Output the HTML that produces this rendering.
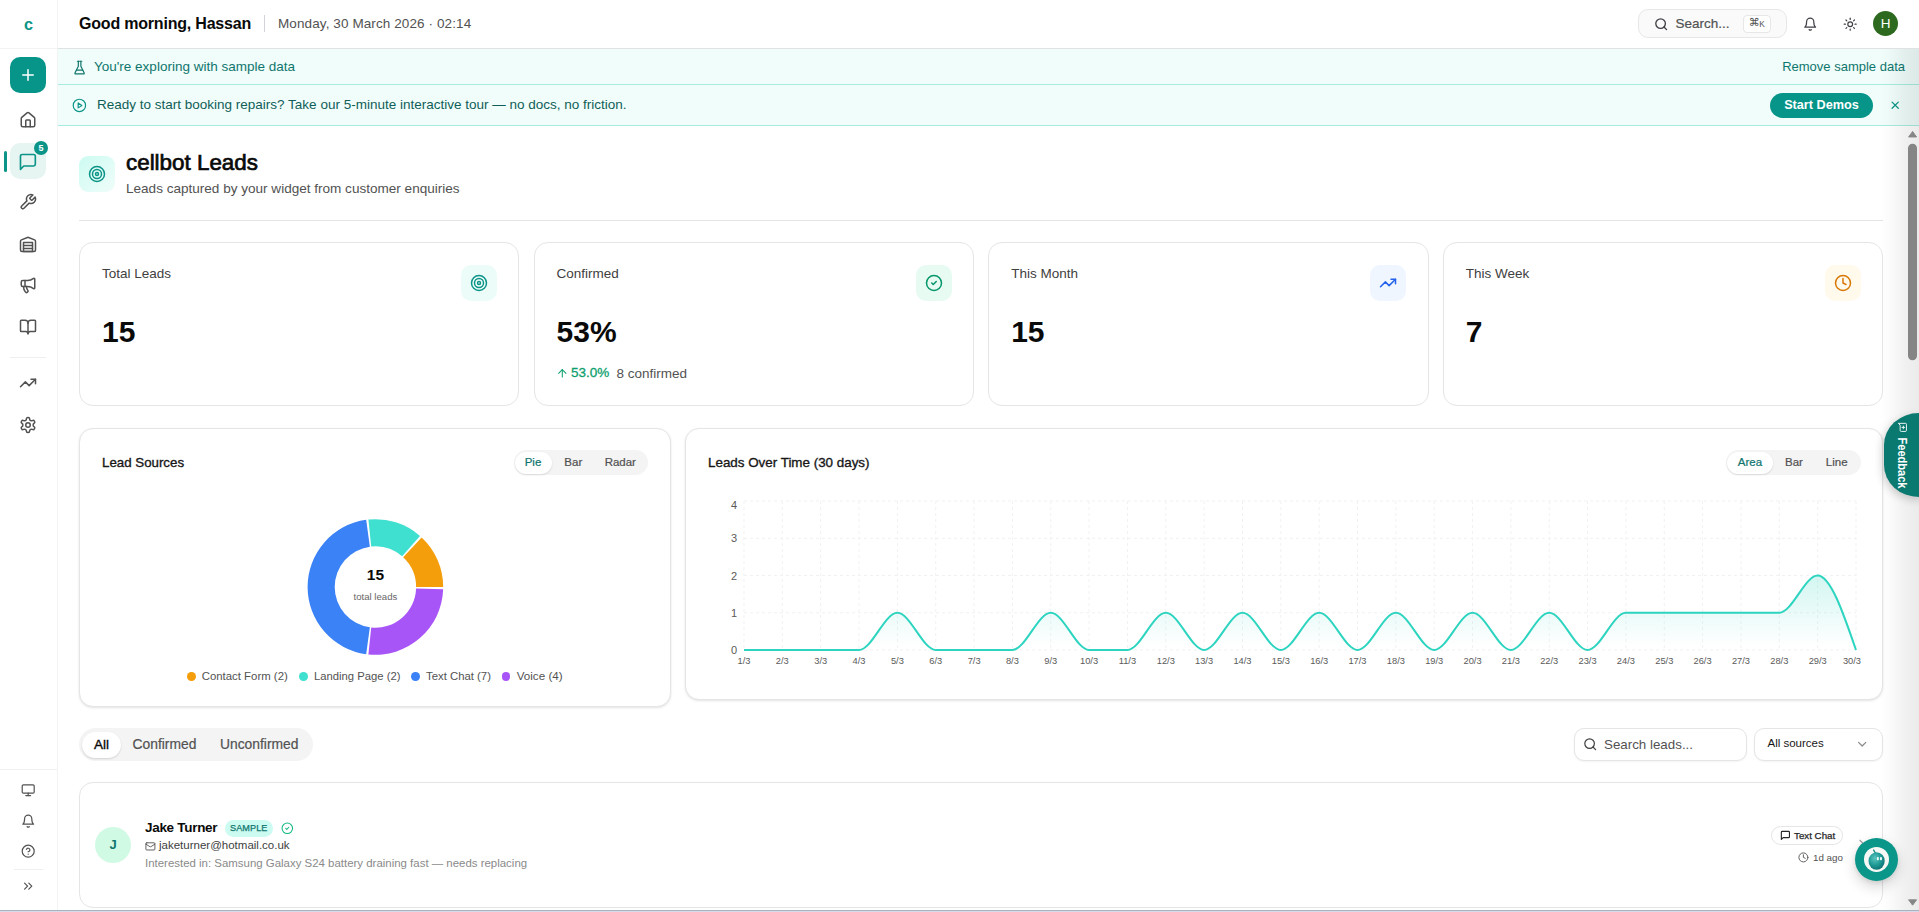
<!DOCTYPE html>
<html lang="en">
<head>
<meta charset="utf-8">
<title>cellbot Leads</title>
<style>
*{box-sizing:border-box;margin:0;padding:0}
html,body{width:1919px;height:912px;overflow:hidden;background:#fff}
body{font-family:"Liberation Sans",Arial,sans-serif;color:#0a0a0a;position:relative;-webkit-font-smoothing:antialiased}
svg.i{fill:none;stroke:currentColor;stroke-width:2;stroke-linecap:round;stroke-linejoin:round;display:block}
.abs{position:absolute}
/* sidebar */
#side{position:absolute;left:0;top:0;width:58px;height:912px;border-right:1px solid #f3f3f4;background:#fff}
#side .ic{position:absolute;left:18px;width:20px;height:20px;color:#444}
#side .ic svg{width:20px;height:20px}
/* header */
#hdr{position:absolute;left:58px;top:0;width:1861px;height:49px;border-bottom:1px solid #dfe1e3;background:#fff}
/* banners */
#b1{position:absolute;left:58px;top:49px;width:1861px;height:36px;background:#f0fdfa;border-bottom:1px solid #a7ece0}
#b2{position:absolute;left:58px;top:85px;width:1861px;height:41px;background:#f0fdfa;border-bottom:1px solid #a7ece0}
.card{position:absolute;background:#fff;border:1px solid #e5e5e5;border-radius:14px}
.sh{box-shadow:0 1px 3px rgba(0,0,0,.08),0 1px 2px rgba(0,0,0,.04)}
.md{font-weight:400;-webkit-text-stroke:.35px currentColor}
.sh2{box-shadow:0 1px 2px rgba(0,0,0,.05)}
.tg{-webkit-text-stroke:.22px currentColor}
.t{position:absolute;white-space:nowrap;line-height:1}
</style>
</head>
<body>

<!-- SIDEBAR -->
<div id="side">
  <div class="t" style="left:24px;top:16.2px;font-size:16.2px;font-weight:700;color:#0d9488">c</div>
  <div class="abs" style="left:0;top:48px;width:57px;height:1px;background:#f3f3f4"></div>
  <div class="abs" style="left:10px;top:57px;width:36px;height:36px;border-radius:10px;background:#07958a;color:#fff">
    <svg class="i" viewBox="0 0 24 24" style="width:18px;height:18px;margin:9px"><path d="M5 12h14M12 5v14"/></svg>
  </div>
  <svg class="i abs" viewBox="0 0 24 24" style="left:19.0px;top:111.0px;width:18px;height:18px;color:#525252;stroke-width:2"><path d="M15 21v-8a1 1 0 0 0-1-1h-4a1 1 0 0 0-1 1v8"/><path d="M3 10a2 2 0 0 1 .709-1.528l7-5.999a2 2 0 0 1 2.582 0l7 5.999A2 2 0 0 1 21 10v9a2 2 0 0 1-2 2H5a2 2 0 0 1-2-2z"/></svg>
  <div class="abs" style="left:10px;top:143px;width:36px;height:36px;border-radius:10px;background:#e6f4f2"></div>
  <div class="abs" style="left:4px;top:150.6px;width:3px;height:21.8px;border-radius:2px;background:#0d9488"></div>
  <svg class="i abs" viewBox="0 0 24 24" style="left:18.3px;top:151.6px;width:19.8px;height:19.8px;color:#0d9488;stroke-width:2"><path d="M21 15a2 2 0 0 1-2 2H7l-4 4V5a2 2 0 0 1 2-2h14a2 2 0 0 1 2 2z"/></svg>
  <div class="abs" style="left:34px;top:141px;width:14px;height:14px;border-radius:7px;background:#0d9488;color:#fff;font-size:9px;font-weight:700;text-align:center;line-height:14px">5</div>
  <svg class="i abs" viewBox="0 0 24 24" style="left:19.0px;top:193.2px;width:18px;height:18px;color:#525252;stroke-width:2"><path d="M14.7 6.3a1 1 0 0 0 0 1.4l1.6 1.6a1 1 0 0 0 1.4 0l3.77-3.77a6 6 0 0 1-7.94 7.94l-6.91 6.91a2.12 2.12 0 0 1-3-3l6.91-6.91a6 6 0 0 1 7.94-7.94l-3.76 3.76z"/></svg>
  <svg class="i abs" viewBox="0 0 24 24" style="left:19.0px;top:234.5px;width:18px;height:18px;color:#525252;stroke-width:2"><path d="M22 8.35V20a2 2 0 0 1-2 2H4a2 2 0 0 1-2-2V8.35A2 2 0 0 1 3.26 6.5l8-3.2a2 2 0 0 1 1.48 0l8 3.2A2 2 0 0 1 22 8.35Z"/><path d="M6 18h12"/><path d="M6 14h12"/><rect width="12" height="12" x="6" y="10"/></svg>
  <svg class="i abs" viewBox="0 0 24 24" style="left:19.0px;top:276.0px;width:18px;height:18px;color:#525252;stroke-width:2"><path d="M11 6a13 13 0 0 0 8.4-2.8A1 1 0 0 1 21 4v12a1 1 0 0 1-1.6.8A13 13 0 0 0 11 14H5a2 2 0 0 1-2-2V8a2 2 0 0 1 2-2z"/><path d="M6 14a12 12 0 0 0 2.4 7.2 2 2 0 0 0 3.2-2.4A8 8 0 0 1 10 14"/><path d="M8 6v8"/></svg>
  <svg class="i abs" viewBox="0 0 24 24" style="left:19.0px;top:318.0px;width:18px;height:18px;color:#525252;stroke-width:2"><path d="M12 7v14"/><path d="M3 18a1 1 0 0 1-1-1V4a1 1 0 0 1 1-1h5a4 4 0 0 1 4 4 4 4 0 0 1 4-4h5a1 1 0 0 1 1 1v13a1 1 0 0 1-1 1h-6a3 3 0 0 0-3 3 3 3 0 0 0-3-3z"/></svg>
  <div class="abs" style="left:10px;top:357px;width:36px;height:1px;background:#efeff0"></div>
  <svg class="i abs" viewBox="0 0 24 24" style="left:19.0px;top:374.0px;width:18px;height:18px;color:#525252;stroke-width:2"><polyline points="22 7 13.5 15.5 8.5 10.5 2 17"/><polyline points="16 7 22 7 22 13"/></svg>
  <svg class="i abs" viewBox="0 0 24 24" style="left:19.0px;top:416.0px;width:18px;height:18px;color:#525252;stroke-width:2"><path d="M12.22 2h-.44a2 2 0 0 0-2 2v.18a2 2 0 0 1-1 1.73l-.43.25a2 2 0 0 1-2 0l-.15-.08a2 2 0 0 0-2.73.73l-.22.38a2 2 0 0 0 .73 2.73l.15.1a2 2 0 0 1 1 1.72v.51a2 2 0 0 1-1 1.74l-.15.09a2 2 0 0 0-.73 2.73l.22.38a2 2 0 0 0 2.73.73l.15-.08a2 2 0 0 1 2 0l.43.25a2 2 0 0 1 1 1.73V20a2 2 0 0 0 2 2h.44a2 2 0 0 0 2-2v-.18a2 2 0 0 1 1-1.73l.43-.25a2 2 0 0 1 2 0l.15.08a2 2 0 0 0 2.73-.73l.22-.39a2 2 0 0 0-.73-2.73l-.15-.08a2 2 0 0 1-1-1.74v-.5a2 2 0 0 1 1-1.74l.15-.09a2 2 0 0 0 .73-2.73l-.22-.38a2 2 0 0 0-2.73-.73l-.15.08a2 2 0 0 1-2 0l-.43-.25a2 2 0 0 1-1-1.73V4a2 2 0 0 0-2-2z"/><circle cx="12" cy="12" r="3"/></svg>
  <div class="abs" style="left:0;top:769px;width:57px;height:1px;background:#f1f1f3"></div>
  <svg class="i abs" viewBox="0 0 24 24" style="left:20.9px;top:782.8px;width:14.4px;height:14.4px;color:#525252;stroke-width:2"><rect width="20" height="14" x="2" y="3" rx="2"/><line x1="8" x2="16" y1="21" y2="21"/><line x1="12" x2="12" y1="17" y2="21"/></svg>
  <svg class="i abs" viewBox="0 0 24 24" style="left:20.9px;top:814.0px;width:14.4px;height:14.4px;color:#525252;stroke-width:2"><path d="M6 8a6 6 0 0 1 12 0c0 7 3 9 3 9H3s3-2 3-9"/><path d="M10.3 21a1.94 1.94 0 0 0 3.4 0"/></svg>
  <svg class="i abs" viewBox="0 0 24 24" style="left:20.9px;top:844.1px;width:14.4px;height:14.4px;color:#525252;stroke-width:2"><circle cx="12" cy="12" r="10"/><path d="M9.09 9a3 3 0 0 1 5.83 1c0 2-3 3-3 3"/><path d="M12 17h.01"/></svg>
  <div class="abs" style="left:14px;top:869px;width:29px;height:1px;background:#efeff0"></div>
  <svg class="i abs" viewBox="0 0 24 24" style="left:20.9px;top:879.0px;width:14.4px;height:14.4px;color:#525252;stroke-width:2"><path d="m6 17 5-5-5-5"/><path d="m13 17 5-5-5-5"/></svg>
</div>

<!-- HEADER -->
<div id="hdr">
  <div class="t" id="greet" style="left:21px;top:16.3px;font-size:16px;font-weight:700;color:#0a0a0a;letter-spacing:-0.2px">Good morning, Hassan</div>
  <div class="abs" style="left:206px;top:15px;width:1px;height:17px;background:#d4d4d8"></div>
  <div class="t" id="date" style="left:220px;top:17px;font-size:13.5px;letter-spacing:.1px;color:#525252">Monday, 30 March 2026 · 02:14</div>
  <div class="abs" style="left:1580px;top:9px;width:149px;height:29px;border:1px solid #e7e7e9;border-radius:10px;background:#fafafa"></div>
  <svg class="i abs" viewBox="0 0 24 24" style="left:1595.8px;top:16.9px;width:14.4px;height:14.4px;color:#3f3f46;stroke-width:2.2"><circle cx="11" cy="11" r="8"/><path d="m21 21-4.3-4.3"/></svg>
  <div class="t" id="srch" style="left:1617.4px;top:17.2px;font-size:13.5px;color:#525252;-webkit-text-stroke:.2px #525252">Search...</div>
  <div class="abs" style="left:1685px;top:15px;width:28px;height:17.5px;border:1px solid #e7e7e9;border-radius:4px;background:#fff"></div>
  <div class="t" style="left:1690.8px;top:16.5px;font-size:11px;color:#525252;font-family:'DejaVu Sans','Liberation Sans',sans-serif">⌘<span style="font-family:'Liberation Sans',sans-serif;font-size:8.3px;margin-left:-.6px;position:relative;top:1px">K</span></div>
  <svg class="i abs" viewBox="0 0 24 24" style="left:1745.1px;top:17.1px;width:14.4px;height:14.4px;color:#3f3f46;stroke-width:2"><path d="M6 8a6 6 0 0 1 12 0c0 7 3 9 3 9H3s3-2 3-9"/><path d="M10.3 21a1.94 1.94 0 0 0 3.4 0"/></svg>
  <svg class="i abs" viewBox="0 0 24 24" style="left:1784.9px;top:17px;width:14.4px;height:14.4px;color:#3f3f46;stroke-width:2"><circle cx="12" cy="12" r="4"/><path d="M12 2v2"/><path d="M12 20v2"/><path d="m4.93 4.93 1.41 1.41"/><path d="m17.66 17.66 1.41 1.41"/><path d="M2 12h2"/><path d="M20 12h2"/><path d="m6.34 17.66-1.41 1.41"/><path d="m19.07 4.93-1.41 1.41"/></svg>
  <div class="abs" style="left:1815px;top:11px;width:25px;height:25px;border-radius:50%;background:#2d6a1f;color:#fff;font-size:13.5px;text-align:center;line-height:25.5px">H</div>
</div>

<!-- BANNERS -->
<div id="b1">
  <svg class="i abs" viewBox="0 0 24 24" style="left:13.65px;top:10.5px;width:15.2px;height:15.2px;color:#0f766e;stroke-width:1.9"><path d="M10 2v7.527a2 2 0 0 1-.211.896L4.72 20.55a1 1 0 0 0 .9 1.45h12.76a1 1 0 0 0 .9-1.45l-5.069-10.127A2 2 0 0 1 14 9.527V2"/><path d="M8.5 2h7"/><path d="M7 16h10"/></svg>
  <div class="t" id="b1t" style="left:36px;top:10.9px;font-size:13.5px;color:#0f766e">You're exploring with sample data</div>
  <div class="t" id="b1r" style="right:14px;top:11px;font-size:13px;color:#0f766e">Remove sample data</div>
</div>
<div id="b2">
  <svg class="i abs" viewBox="0 0 24 24" style="left:13.9px;top:12.8px;width:14.8px;height:14.8px;color:#0d9488;stroke-width:1.9"><circle cx="12" cy="12" r="10"/><polygon points="10 8 16 12 10 16 10 8"/></svg>
  <div class="t" id="b2t" style="left:39px;top:12.8px;font-size:13.5px;color:#115e59">Ready to start booking repairs? Take our 5-minute interactive tour — no docs, no friction.</div>
  <div class="abs" id="demo" style="left:1712px;top:8px;width:103px;height:25px;border-radius:13px;background:#07958a;color:#fff;font-size:12.7px;font-weight:700;text-align:center;line-height:24px">Start Demos</div>
  <svg class="i abs" viewBox="0 0 24 24" style="left:1831.2px;top:14.1px;width:12.4px;height:12.4px;color:#0d9488;stroke-width:2.4"><path d="M18 6 6 18"/><path d="m6 6 12 12"/></svg>
</div>

<!-- CONTENT -->
<div id="content">
<div class="abs" style="left:79px;top:156px;width:36px;height:36px;border-radius:9px;background:linear-gradient(135deg,#ccfbf1,#f0fdfa)"></div>
<svg class="i abs" viewBox="0 0 24 24" style="left:88px;top:165px;width:18px;height:18px;color:#0d9488;stroke-width:2"><circle cx="12" cy="12" r="10"/><circle cx="12" cy="12" r="6"/><circle cx="12" cy="12" r="2"/></svg>
<div class="t" id="ttl" style="left:126px;top:151.8px;font-size:22.4px;font-weight:400;-webkit-text-stroke:.7px #0a0a0a;color:#0a0a0a">cellbot Leads</div>
<div class="t" id="sub" style="left:126px;top:182px;font-size:13.55px;color:#525252">Leads captured by your widget from customer enquiries</div>
<div class="abs" style="left:79px;top:220px;width:1804px;height:1px;background:#e5e5e5"></div>
<div class="card" style="left:79px;top:242px;width:440.2px;height:164px"></div>
<div class="t" id="sl0" style="left:102px;top:267px;font-size:13.5px;color:#404040">Total Leads</div>
<div class="abs" style="left:461px;top:265px;width:36px;height:36px;border-radius:10px;background:#ecfdf9"></div>
<svg class="i abs" viewBox="0 0 24 24" style="left:470px;top:274px;width:18px;height:18px;color:#0d9488;stroke-width:2"><circle cx="12" cy="12" r="10"/><circle cx="12" cy="12" r="6"/><circle cx="12" cy="12" r="2"/></svg>
<div class="t" id="sv0" style="left:102px;top:317px;font-size:30px;font-weight:700;color:#0a0a0a">15</div>
<div class="card" style="left:533.6px;top:242px;width:440.2px;height:164px"></div>
<div class="t" id="sl1" style="left:556.6px;top:267px;font-size:13.5px;color:#404040">Confirmed</div>
<div class="abs" style="left:915.6px;top:265px;width:36px;height:36px;border-radius:10px;background:#e8fbf3"></div>
<svg class="i abs" viewBox="0 0 24 24" style="left:924.6px;top:274px;width:18px;height:18px;color:#059669;stroke-width:2"><circle cx="12" cy="12" r="10"/><path d="m9 12 2 2 4-4"/></svg>
<div class="t" id="sv1" style="left:556.6px;top:317px;font-size:30px;font-weight:700;color:#0a0a0a">53%</div>
<div class="card" style="left:988.2px;top:242px;width:441px;height:164px"></div>
<div class="t" id="sl2" style="left:1011.2px;top:267px;font-size:13.5px;color:#404040">This Month</div>
<div class="abs" style="left:1370.2px;top:265px;width:36px;height:36px;border-radius:10px;background:#eff6ff"></div>
<svg class="i abs" viewBox="0 0 24 24" style="left:1379.2px;top:274px;width:18px;height:18px;color:#2563eb;stroke-width:2"><polyline points="22 7 13.5 15.5 8.5 10.5 2 17"/><polyline points="16 7 22 7 22 13"/></svg>
<div class="t" id="sv2" style="left:1011.2px;top:317px;font-size:30px;font-weight:700;color:#0a0a0a">15</div>
<div class="card" style="left:1442.8px;top:242px;width:440.2px;height:164px"></div>
<div class="t" id="sl3" style="left:1465.8px;top:267px;font-size:13.5px;color:#404040">This Week</div>
<div class="abs" style="left:1824.8px;top:265px;width:36px;height:36px;border-radius:10px;background:#fffaeb"></div>
<svg class="i abs" viewBox="0 0 24 24" style="left:1833.8px;top:274px;width:18px;height:18px;color:#d97706;stroke-width:2"><circle cx="12" cy="12" r="10"/><polyline points="12 6 12 12 16 14"/></svg>
<div class="t" id="sv3" style="left:1465.8px;top:317px;font-size:30px;font-weight:700;color:#0a0a0a">7</div>
<svg class="i abs" viewBox="0 0 24 24" style="left:556.3px;top:366.6px;width:12.6px;height:12.6px;color:#0d9f6e;stroke-width:2"><path d="m5 12 7-7 7 7"/><path d="M12 19V5"/></svg>
<div class="t" id="pct" style="left:571px;top:366px;font-size:13.5px;color:#0d9f6e;-webkit-text-stroke:.3px #0d9f6e">53.0%</div>
<div class="t" id="conf" style="left:616.5px;top:367px;font-size:13.5px;color:#525252">8 confirmed</div>
<div class="card sh" style="left:79px;top:428px;width:591.6px;height:278.5px"></div>
<div class="card sh" style="left:685px;top:428px;width:1198px;height:271.5px"></div>
<div id="ls" class="t md" style="left:102px;top:456px;font-size:13.3px;color:#171717">Lead Sources</div>
<div class="t md" id="lot" style="left:708px;top:456px;font-size:13.4px;color:#171717">Leads Over Time (30 days)</div>
<div class="abs" style="left:513.8px;top:450px;width:134px;height:25px;border-radius:12.5px;background:#f4f4f5"></div>
<div class="abs" style="left:514.8px;top:451.8px;width:37px;height:22.4px;border-radius:11.2px;background:#fff;box-shadow:0 1px 2px rgba(0,0,0,.12)"></div>
<div class="t tg" style="left:503px;width:60px;top:456.5px;text-align:center;font-size:11.5px;color:#0f766e">Pie</div>
<div class="t tg" style="left:543.3px;width:60px;top:456.5px;text-align:center;font-size:11.5px;color:#525252">Bar</div>
<div class="t tg" style="left:590.3px;width:60px;top:456.5px;text-align:center;font-size:11.5px;color:#525252">Radar</div>
<div class="abs" style="left:1726px;top:450px;width:134.8px;height:25px;border-radius:12.5px;background:#f4f4f5"></div>
<div class="abs" style="left:1726.6px;top:451.8px;width:46.4px;height:22.4px;border-radius:11.2px;background:#fff;box-shadow:0 1px 2px rgba(0,0,0,.12)"></div>
<div class="t tg" style="left:1720px;width:60px;top:456.5px;text-align:center;font-size:11.5px;color:#0f766e">Area</div>
<div class="t tg" style="left:1764px;width:60px;top:456.5px;text-align:center;font-size:11.5px;color:#525252">Bar</div>
<div class="t tg" style="left:1806.7px;width:60px;top:456.5px;text-align:center;font-size:11.5px;color:#525252">Line</div>
<div class="abs" style="left:186.9px;top:671.8px;width:8.8px;height:8.8px;border-radius:50%;background:#f59e0b"></div>
<div class="t" id="lg0" style="left:201.7px;top:670.5px;font-size:11.4px;color:#525252">Contact Form (2)</div>
<div class="abs" style="left:298.9px;top:671.8px;width:8.8px;height:8.8px;border-radius:50%;background:#40e0d0"></div>
<div class="t" id="lg1" style="left:314px;top:670.5px;font-size:11.27px;color:#525252">Landing Page (2)</div>
<div class="abs" style="left:410.9px;top:671.8px;width:8.8px;height:8.8px;border-radius:50%;background:#3b82f6"></div>
<div class="t" id="lg2" style="left:426px;top:670.5px;font-size:11.35px;color:#525252">Text Chat (7)</div>
<div class="abs" style="left:501.6px;top:671.8px;width:8.8px;height:8.8px;border-radius:50%;background:#a855f7"></div>
<div class="t" id="lg3" style="left:516.7px;top:670.2px;font-size:11.65px;color:#525252">Voice (4)</div>
<svg class="abs" style="left:0;top:0" width="1919" height="912" viewBox="0 0 1919 912">
<defs><linearGradient id="ag" x1="0" y1="0" x2="0" y2="1"><stop offset="5%" stop-color="#2dd4bf" stop-opacity="0.2"/><stop offset="95%" stop-color="#2dd4bf" stop-opacity="0"/></linearGradient></defs>
<g stroke="#f1f1f3" stroke-width="1" stroke-dasharray="3 3" fill="none"><line x1="744.0" y1="650.00" x2="1856.0" y2="650.00"/><line x1="744.0" y1="612.75" x2="1856.0" y2="612.75"/><line x1="744.0" y1="575.50" x2="1856.0" y2="575.50"/><line x1="744.0" y1="538.25" x2="1856.0" y2="538.25"/><line x1="744.0" y1="501.00" x2="1856.0" y2="501.00"/><line x1="744.00" y1="501.0" x2="744.00" y2="650.0"/><line x1="782.34" y1="501.0" x2="782.34" y2="650.0"/><line x1="820.69" y1="501.0" x2="820.69" y2="650.0"/><line x1="859.03" y1="501.0" x2="859.03" y2="650.0"/><line x1="897.38" y1="501.0" x2="897.38" y2="650.0"/><line x1="935.72" y1="501.0" x2="935.72" y2="650.0"/><line x1="974.07" y1="501.0" x2="974.07" y2="650.0"/><line x1="1012.41" y1="501.0" x2="1012.41" y2="650.0"/><line x1="1050.76" y1="501.0" x2="1050.76" y2="650.0"/><line x1="1089.10" y1="501.0" x2="1089.10" y2="650.0"/><line x1="1127.45" y1="501.0" x2="1127.45" y2="650.0"/><line x1="1165.79" y1="501.0" x2="1165.79" y2="650.0"/><line x1="1204.14" y1="501.0" x2="1204.14" y2="650.0"/><line x1="1242.48" y1="501.0" x2="1242.48" y2="650.0"/><line x1="1280.83" y1="501.0" x2="1280.83" y2="650.0"/><line x1="1319.17" y1="501.0" x2="1319.17" y2="650.0"/><line x1="1357.52" y1="501.0" x2="1357.52" y2="650.0"/><line x1="1395.86" y1="501.0" x2="1395.86" y2="650.0"/><line x1="1434.21" y1="501.0" x2="1434.21" y2="650.0"/><line x1="1472.55" y1="501.0" x2="1472.55" y2="650.0"/><line x1="1510.90" y1="501.0" x2="1510.90" y2="650.0"/><line x1="1549.24" y1="501.0" x2="1549.24" y2="650.0"/><line x1="1587.59" y1="501.0" x2="1587.59" y2="650.0"/><line x1="1625.93" y1="501.0" x2="1625.93" y2="650.0"/><line x1="1664.28" y1="501.0" x2="1664.28" y2="650.0"/><line x1="1702.62" y1="501.0" x2="1702.62" y2="650.0"/><line x1="1740.97" y1="501.0" x2="1740.97" y2="650.0"/><line x1="1779.31" y1="501.0" x2="1779.31" y2="650.0"/><line x1="1817.66" y1="501.0" x2="1817.66" y2="650.0"/><line x1="1856.00" y1="501.0" x2="1856.00" y2="650.0"/></g>
<path d="M744.00,650.00C756.78,650.00,769.56,650.00,782.34,650.00C795.13,650.00,807.91,650.00,820.69,650.00C833.47,650.00,846.25,650.00,859.03,650.00C871.82,650.00,884.60,612.75,897.38,612.75C910.16,612.75,922.94,650.00,935.72,650.00C948.51,650.00,961.29,650.00,974.07,650.00C986.85,650.00,999.63,650.00,1012.41,650.00C1025.20,650.00,1037.98,612.75,1050.76,612.75C1063.54,612.75,1076.32,650.00,1089.10,650.00C1101.89,650.00,1114.67,650.00,1127.45,650.00C1140.23,650.00,1153.01,612.75,1165.79,612.75C1178.57,612.75,1191.36,650.00,1204.14,650.00C1216.92,650.00,1229.70,612.75,1242.48,612.75C1255.26,612.75,1268.05,650.00,1280.83,650.00C1293.61,650.00,1306.39,612.75,1319.17,612.75C1331.95,612.75,1344.74,650.00,1357.52,650.00C1370.30,650.00,1383.08,612.75,1395.86,612.75C1408.64,612.75,1421.43,650.00,1434.21,650.00C1446.99,650.00,1459.77,612.75,1472.55,612.75C1485.33,612.75,1498.11,650.00,1510.90,650.00C1523.68,650.00,1536.46,612.75,1549.24,612.75C1562.02,612.75,1574.80,650.00,1587.59,650.00C1600.37,650.00,1613.15,612.75,1625.93,612.75C1638.71,612.75,1651.49,612.75,1664.28,612.75C1677.06,612.75,1689.84,612.75,1702.62,612.75C1715.40,612.75,1728.18,612.75,1740.97,612.75C1753.75,612.75,1766.53,612.75,1779.31,612.75C1792.09,612.75,1804.87,575.50,1817.66,575.50C1830.44,575.50,1843.22,612.75,1856.00,650.00L1856.00,650.00L744.00,650.00Z" fill="url(#ag)" stroke="none"/>
<path d="M744.00,650.00C756.78,650.00,769.56,650.00,782.34,650.00C795.13,650.00,807.91,650.00,820.69,650.00C833.47,650.00,846.25,650.00,859.03,650.00C871.82,650.00,884.60,612.75,897.38,612.75C910.16,612.75,922.94,650.00,935.72,650.00C948.51,650.00,961.29,650.00,974.07,650.00C986.85,650.00,999.63,650.00,1012.41,650.00C1025.20,650.00,1037.98,612.75,1050.76,612.75C1063.54,612.75,1076.32,650.00,1089.10,650.00C1101.89,650.00,1114.67,650.00,1127.45,650.00C1140.23,650.00,1153.01,612.75,1165.79,612.75C1178.57,612.75,1191.36,650.00,1204.14,650.00C1216.92,650.00,1229.70,612.75,1242.48,612.75C1255.26,612.75,1268.05,650.00,1280.83,650.00C1293.61,650.00,1306.39,612.75,1319.17,612.75C1331.95,612.75,1344.74,650.00,1357.52,650.00C1370.30,650.00,1383.08,612.75,1395.86,612.75C1408.64,612.75,1421.43,650.00,1434.21,650.00C1446.99,650.00,1459.77,612.75,1472.55,612.75C1485.33,612.75,1498.11,650.00,1510.90,650.00C1523.68,650.00,1536.46,612.75,1549.24,612.75C1562.02,612.75,1574.80,650.00,1587.59,650.00C1600.37,650.00,1613.15,612.75,1625.93,612.75C1638.71,612.75,1651.49,612.75,1664.28,612.75C1677.06,612.75,1689.84,612.75,1702.62,612.75C1715.40,612.75,1728.18,612.75,1740.97,612.75C1753.75,612.75,1766.53,612.75,1779.31,612.75C1792.09,612.75,1804.87,575.50,1817.66,575.50C1830.44,575.50,1843.22,612.75,1856.00,650.00" fill="none" stroke="#2dd4bf" stroke-width="2" stroke-linejoin="round"/>
<g font-family="Liberation Sans, Arial, sans-serif" font-size="11" fill="#5a5a5a" text-anchor="end">
<text x="737" y="654.3">0</text>
<text x="737" y="616.9">1</text>
<text x="737" y="579.9">2</text>
<text x="737" y="542.4">3</text>
<text x="737" y="508.9">4</text>
</g>
<g font-family="Liberation Sans, Arial, sans-serif" font-size="9.3" fill="#5a5a5a" text-anchor="middle">
<text x="744.0" y="664.2">1/3</text>
<text x="782.3" y="664.2">2/3</text>
<text x="820.7" y="664.2">3/3</text>
<text x="859.0" y="664.2">4/3</text>
<text x="897.4" y="664.2">5/3</text>
<text x="935.7" y="664.2">6/3</text>
<text x="974.1" y="664.2">7/3</text>
<text x="1012.4" y="664.2">8/3</text>
<text x="1050.8" y="664.2">9/3</text>
<text x="1089.1" y="664.2">10/3</text>
<text x="1127.4" y="664.2">11/3</text>
<text x="1165.8" y="664.2">12/3</text>
<text x="1204.1" y="664.2">13/3</text>
<text x="1242.5" y="664.2">14/3</text>
<text x="1280.8" y="664.2">15/3</text>
<text x="1319.2" y="664.2">16/3</text>
<text x="1357.5" y="664.2">17/3</text>
<text x="1395.9" y="664.2">18/3</text>
<text x="1434.2" y="664.2">19/3</text>
<text x="1472.6" y="664.2">20/3</text>
<text x="1510.9" y="664.2">21/3</text>
<text x="1549.2" y="664.2">22/3</text>
<text x="1587.6" y="664.2">23/3</text>
<text x="1625.9" y="664.2">24/3</text>
<text x="1664.3" y="664.2">25/3</text>
<text x="1702.6" y="664.2">26/3</text>
<text x="1741.0" y="664.2">27/3</text>
<text x="1779.3" y="664.2">28/3</text>
<text x="1817.7" y="664.2">29/3</text>
<text x="1861" y="664.2" text-anchor="end">30/3</text>
</g>
<path d="M443.20,587.06A67.8,67.8,0,0,0,421.65,537.43L403.17,557.24A40.7,40.7,0,0,1,416.10,587.04Z" fill="#f59e0b"/>
<path d="M419.98,535.92A67.8,67.8,0,0,0,368.41,519.56L371.20,546.52A40.7,40.7,0,0,1,402.16,556.34Z" fill="#40e0d0"/>
<path d="M366.18,519.83A67.8,67.8,0,0,0,366.18,654.17L369.86,627.32A40.7,40.7,0,0,1,369.86,546.68Z" fill="#3b82f6"/>
<path d="M368.41,654.44A67.8,67.8,0,0,0,443.16,589.31L416.08,588.38A40.7,40.7,0,0,1,371.20,627.48Z" fill="#a855f7"/>
<text x="375.4" y="580.3" text-anchor="middle" font-family="Liberation Sans, Arial, sans-serif" font-size="15.5" font-weight="700" fill="#0a0a0a">15</text>
<text x="375.4" y="599.8" text-anchor="middle" font-family="Liberation Sans, Arial, sans-serif" font-size="9.6" fill="#666">total leads</text>
</svg>
<div class="abs" style="left:79px;top:728px;width:233.5px;height:32.5px;border-radius:16.5px;background:#f4f4f5"></div>
<div class="abs" style="left:82px;top:731.6px;width:39px;height:26px;border-radius:13px;background:#fff;box-shadow:0 1px 2px rgba(0,0,0,.14)"></div>
<div class="t md" id="tb0" style="left:94px;top:738px;font-size:13.5px;color:#0a0a0a">All</div>
<div class="t" id="tb1" style="left:132.5px;top:737.8px;font-size:13.85px;color:#525252;-webkit-text-stroke:.2px #525252">Confirmed</div>
<div class="t" id="tb2" style="left:220px;top:737.8px;font-size:13.85px;color:#525252;-webkit-text-stroke:.2px #525252">Unconfirmed</div>
<div class="abs sh2" style="left:1574px;top:728px;width:172.5px;height:32.5px;border-radius:10px;border:1px solid #e5e5e5;background:#fff"></div>
<svg class="i abs" viewBox="0 0 24 24" style="left:1583px;top:737px;width:14.4px;height:14.4px;color:#404040;stroke-width:2"><circle cx="11" cy="11" r="8"/><path d="m21 21-4.3-4.3"/></svg>
<div class="t" id="sl" style="left:1604px;top:738px;font-size:13.35px;color:#525252">Search leads...</div>
<div class="abs sh2" style="left:1754px;top:728px;width:129px;height:32.5px;border-radius:10px;border:1px solid #e5e5e5;background:#fff"></div>
<div class="t" id="as" style="left:1767.5px;top:737.5px;font-size:11.5px;color:#171717">All sources</div>
<svg class="i abs" viewBox="0 0 24 24" style="left:1855px;top:737px;width:14.4px;height:14.4px;color:#888;stroke-width:2"><path d="m6 9 6 6 6-6"/></svg>
<div class="card" style="left:79px;top:782px;width:1804px;height:126px"></div>
<div class="abs" style="left:95px;top:827px;width:36px;height:36px;border-radius:50%;background:#d1fae5;color:#0f766e;font-size:13px;font-weight:700;text-align:center;line-height:36px">J</div>
<div class="t" id="nm" style="left:145px;top:821px;font-size:13.5px;font-weight:700;color:#0a0a0a;letter-spacing:-.3px">Jake Turner</div>
<div class="abs" style="left:225px;top:820px;width:47.5px;height:16.5px;border-radius:8.5px;background:#ccfbf1"></div>
<div class="t" id="smp" style="left:230px;top:823.8px;font-size:9.1px;color:#0f766e;letter-spacing:.1px;-webkit-text-stroke:.25px #0f766e">SAMPLE</div>
<svg class="i abs" viewBox="0 0 24 24" style="left:281px;top:822px;width:12.6px;height:12.6px;color:#10b981;stroke-width:2"><circle cx="12" cy="12" r="10"/><path d="m9 12 2 2 4-4"/></svg>
<svg class="i abs" viewBox="0 0 24 24" style="left:145px;top:841px;width:10.8px;height:10.8px;color:#525252;stroke-width:2"><rect width="20" height="16" x="2" y="4" rx="2"/><path d="m22 7-8.97 5.7a1.94 1.94 0 0 1-2.06 0L2 7"/></svg>
<div class="t" id="em" style="left:159px;top:839.5px;font-size:11.5px;color:#404040">jaketurner@hotmail.co.uk</div>
<div class="t" id="int" style="left:145px;top:857.5px;font-size:11.45px;color:#8a8a8a">Interested in: Samsung Galaxy S24 battery draining fast — needs replacing</div>
<div class="abs" style="left:1771px;top:826px;width:71.5px;height:18.5px;border-radius:9.5px;border:1px solid #e5e5e5;background:#fff"></div>
<svg class="i abs" viewBox="0 0 24 24" style="left:1779.5px;top:830px;width:10.8px;height:10.8px;color:#262626;stroke-width:2.5"><path d="M21 15a2 2 0 0 1-2 2H7l-4 4V5a2 2 0 0 1 2-2h14a2 2 0 0 1 2 2z"/></svg>
<div class="t" id="tc" style="left:1794px;top:830.6px;font-size:9.75px;color:#262626;-webkit-text-stroke:.25px #262626">Text Chat</div>
<svg class="i abs" viewBox="0 0 24 24" style="left:1798px;top:852px;width:10.8px;height:10.8px;color:#525252;stroke-width:2"><circle cx="12" cy="12" r="10"/><polyline points="12 6 12 12 16 14"/></svg>
<div class="t" id="ago" style="left:1813px;top:852.5px;font-size:9.8px;color:#525252">1d ago</div>
<div class="abs" style="left:1880px;top:49px;width:39px;height:861px;background:linear-gradient(to right,rgba(0,0,0,0) 0%,rgba(0,0,0,.012) 20%,rgba(0,0,0,.03) 40%,rgba(0,0,0,.058) 66%,rgba(0,0,0,.08) 100%)"></div>
<svg class="abs" style="left:1905px;top:126px" width="14" height="784" viewBox="0 0 14 784"><path d="M7.6 5.4 L11.6 11 H3.6 Z" fill="#868686" stroke="#868686" stroke-width=".9" stroke-linejoin="round"/><rect x="3" y="17.8" width="9" height="216.4" rx="4.5" fill="#858585"/><path d="M3.6 773.8 H11.6 L7.6 779.2 Z" fill="#868686" stroke="#868686" stroke-width=".9" stroke-linejoin="round"/></svg>
<div class="abs" style="left:1884px;top:412.5px;width:40px;height:84px;border-radius:35px 0 0 35px / 32px 0 0 32px;background:#0a7a70;box-shadow:-2px 3px 8px rgba(0,0,0,.18)"></div>
<div class="t" id="fb" style="left:1902.4px;top:463.4px;font-size:12.6px;font-weight:700;color:#fff;transform:translate(-50%,-50%) rotate(90deg) scaleX(.875)">Feedback</div>
<svg class="i abs" viewBox="0 0 24 24" style="left:1897.2px;top:421.6px;width:10.8px;height:10.8px;color:#fff;transform:rotate(90deg)"><path d="M21 15a2 2 0 0 1-2 2H7l-4 4V5a2 2 0 0 1 2-2h14a2 2 0 0 1 2 2z"/><path d="M12 7v6"/><path d="M9 10h6"/></svg>
<svg class="i abs" viewBox="0 0 24 24" style="left:1855.2px;top:837.4px;width:13px;height:13px;color:#9a9a9a"><path d="m9 18 6-6-6-6"/></svg>
<div class="abs" style="left:1854.9px;top:837.8px;width:43.2px;height:43.2px;border-radius:50%;background:#0a9688;box-shadow:0 6px 14px rgba(0,0,0,.16),0 2px 4px rgba(0,0,0,.08)"></div>
<svg class="abs" style="left:1862px;top:845px" width="29" height="29" viewBox="0 0 29 29"><defs><radialGradient id="bg1" cx="40%" cy="35%" r="70%"><stop offset="0" stop-color="#5cc5bf"/><stop offset=".55" stop-color="#1f9a96"/><stop offset="1" stop-color="#0c6f70"/></radialGradient></defs><circle cx="14.5" cy="14.4" r="12.5" fill="#f6f8f6"/><path d="M13.4 8.2 L11.6 5" stroke="#1c8f8b" stroke-width="1.4" stroke-linecap="round"/><ellipse cx="14.6" cy="16" rx="8.1" ry="8.8" fill="url(#bg1)"/><rect x="14.9" y="11.9" width="1.9" height="3.4" rx=".8" fill="#f0fbfa"/><rect x="18" y="11.9" width="1.9" height="3.4" rx=".8" fill="#f0fbfa"/></svg>
<!--MORE4-->
</div>

<!-- bottom strip -->
<div class="abs" style="left:0;top:910px;width:1919px;height:1px;background:#abb2bd"></div>
<div class="abs" style="left:0;top:911px;width:1919px;height:1px;background:#d5dbeb"></div>
</body>
</html>
